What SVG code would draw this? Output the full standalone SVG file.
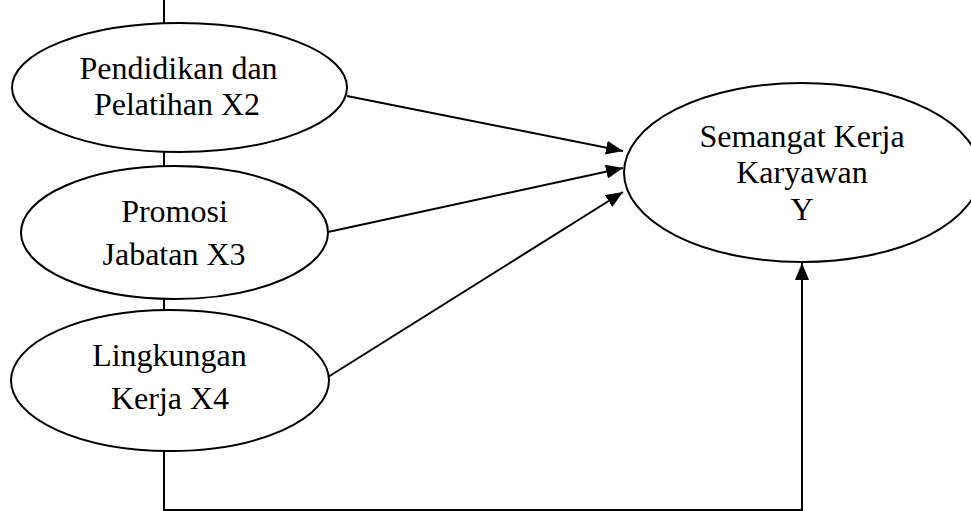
<svg xmlns="http://www.w3.org/2000/svg" width="971" height="511" viewBox="0 0 971 511">
<style>
.node ellipse{fill:#fff;stroke:#000;stroke-width:2}
.node text{font-family:"Liberation Serif","Times New Roman",serif;font-size:32px;text-anchor:middle;fill:#000}
.conn line,.conn polyline{stroke:#000;stroke-width:2;fill:none}
</style>
<defs>
<marker id="ah" markerUnits="userSpaceOnUse" markerWidth="17" markerHeight="14" refX="17" refY="7" orient="auto">
<path d="M0,0 L17,7 L0,14 z" fill="#000"/>
</marker>
</defs>
<g id="connectors" class="conn">
<line x1="164" y1="0" x2="164" y2="24"/>
<line x1="164" y1="151" x2="164" y2="167"/>
<line x1="164" y1="298" x2="164" y2="311"/>
<polyline points="164,450 164,510 802,510 802,263" marker-end="url(#ah)"/>
<line x1="347" y1="96" x2="623" y2="151" marker-end="url(#ah)"/>
<line x1="328" y1="232" x2="623" y2="168" marker-end="url(#ah)"/>
<line x1="328" y1="377" x2="623" y2="192" marker-end="url(#ah)"/>
</g>
<g id="x2" class="node">
<ellipse cx="179.5" cy="87.5" rx="167.5" ry="64.5"/>
<text x="178.5" y="79">Pendidikan dan</text>
<text x="177" y="115">Pelatihan X2</text>
</g>
<g id="x3" class="node">
<ellipse cx="174.5" cy="232.5" rx="153.5" ry="66.5"/>
<text x="174.5" y="221.5">Promosi</text>
<text x="174" y="265">Jabatan X3</text>
</g>
<g id="x4" class="node">
<ellipse cx="170" cy="380.5" rx="159" ry="70.5"/>
<text x="169.5" y="366">Lingkungan</text>
<text x="170" y="409">Kerja X4</text>
</g>
<g id="y" class="node">
<ellipse cx="802" cy="172.5" rx="178" ry="89.5"/>
<text x="802" y="146.5">Semangat Kerja</text>
<text x="802" y="183">Karyawan</text>
<text x="802" y="220">Y</text>
</g>
</svg>
